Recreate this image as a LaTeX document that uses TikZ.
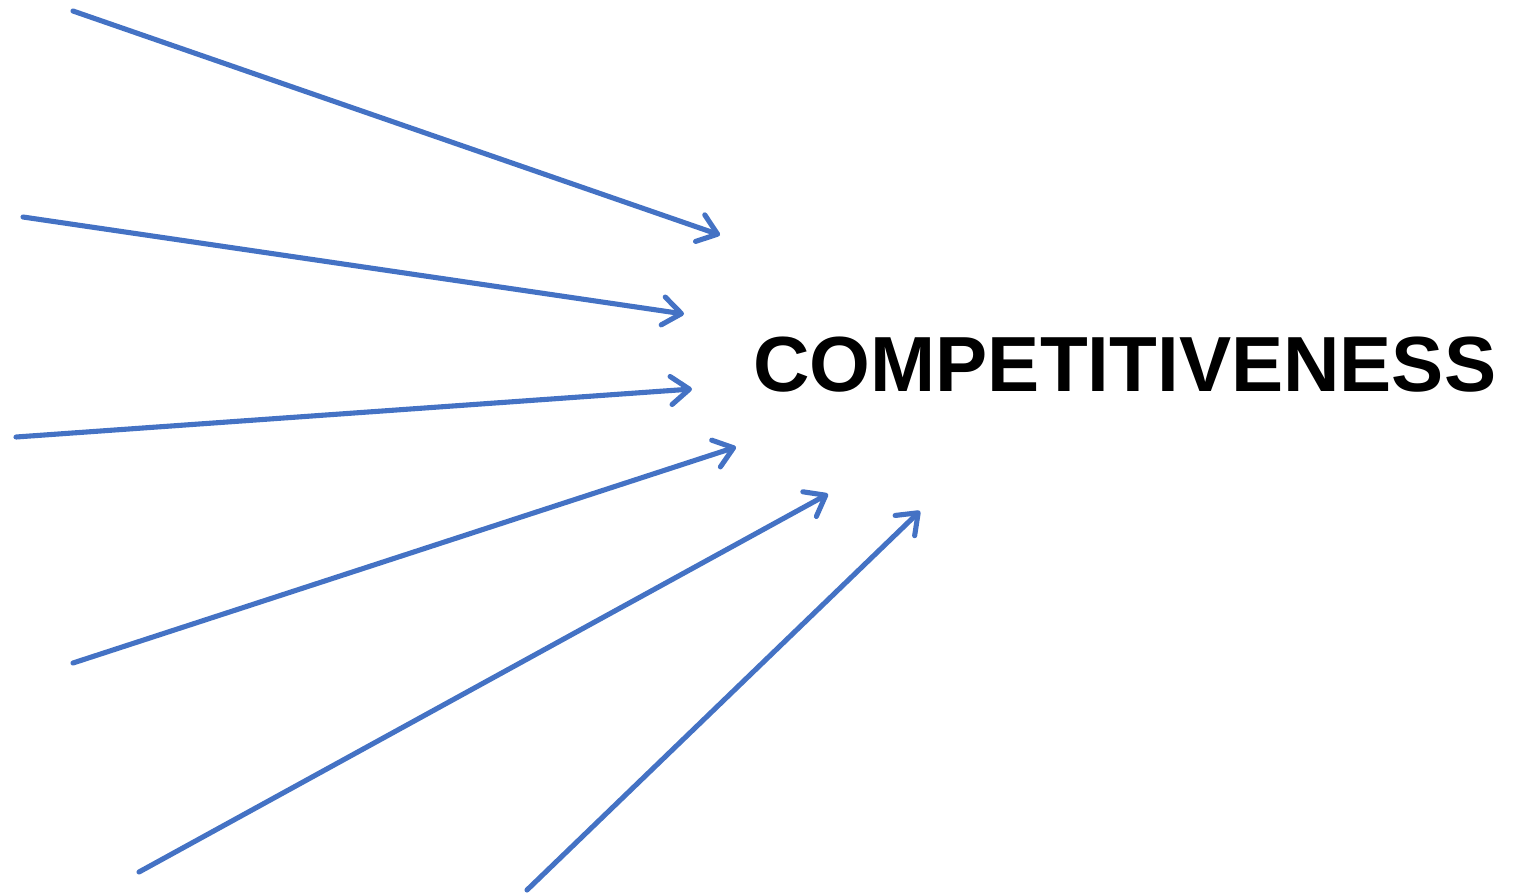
\documentclass[tikz,border=0pt]{standalone}
\usepackage{fontspec}
\setmainfont{Liberation Sans}
\usetikzlibrary{arrows.meta}
\definecolor{arrowblue}{HTML}{4472C4}
\tikzset{
  px/.style={x=0.02cm,y=-0.02cm},
  feed/.style={draw=arrowblue, line width=2.9pt, line cap=round, line join=round,
    -{Straight Barb[length=10.5pt,width=16pt,line cap=round,line join=round]}},
  title/.style={font=\fontsize{44.5}{50}\selectfont\bfseries, inner sep=0pt, anchor=base west}
}
\begin{document}
\begin{tikzpicture}[px]
\useasboundingbox (0,0) rectangle (1517,893);
\coordinate (s1) at (73,11);   \coordinate (e1) at (720,235);
\coordinate (s2) at (23,217);  \coordinate (e2) at (684,314);
\coordinate (s3) at (16,437);  \coordinate (e3) at (692,389);
\coordinate (s4) at (73,663);  \coordinate (e4) at (736,447);
\coordinate (s5) at (139,872); \coordinate (e5) at (828,494);
\coordinate (s6) at (527,890); \coordinate (e6) at (920,511);
\node[title] (comp) at (753,391) {COMPETITIVENESS};
\foreach \i in {1,...,6} {
  \draw[feed] (s\i) -- (e\i);
}
\end{tikzpicture}
\end{document}
